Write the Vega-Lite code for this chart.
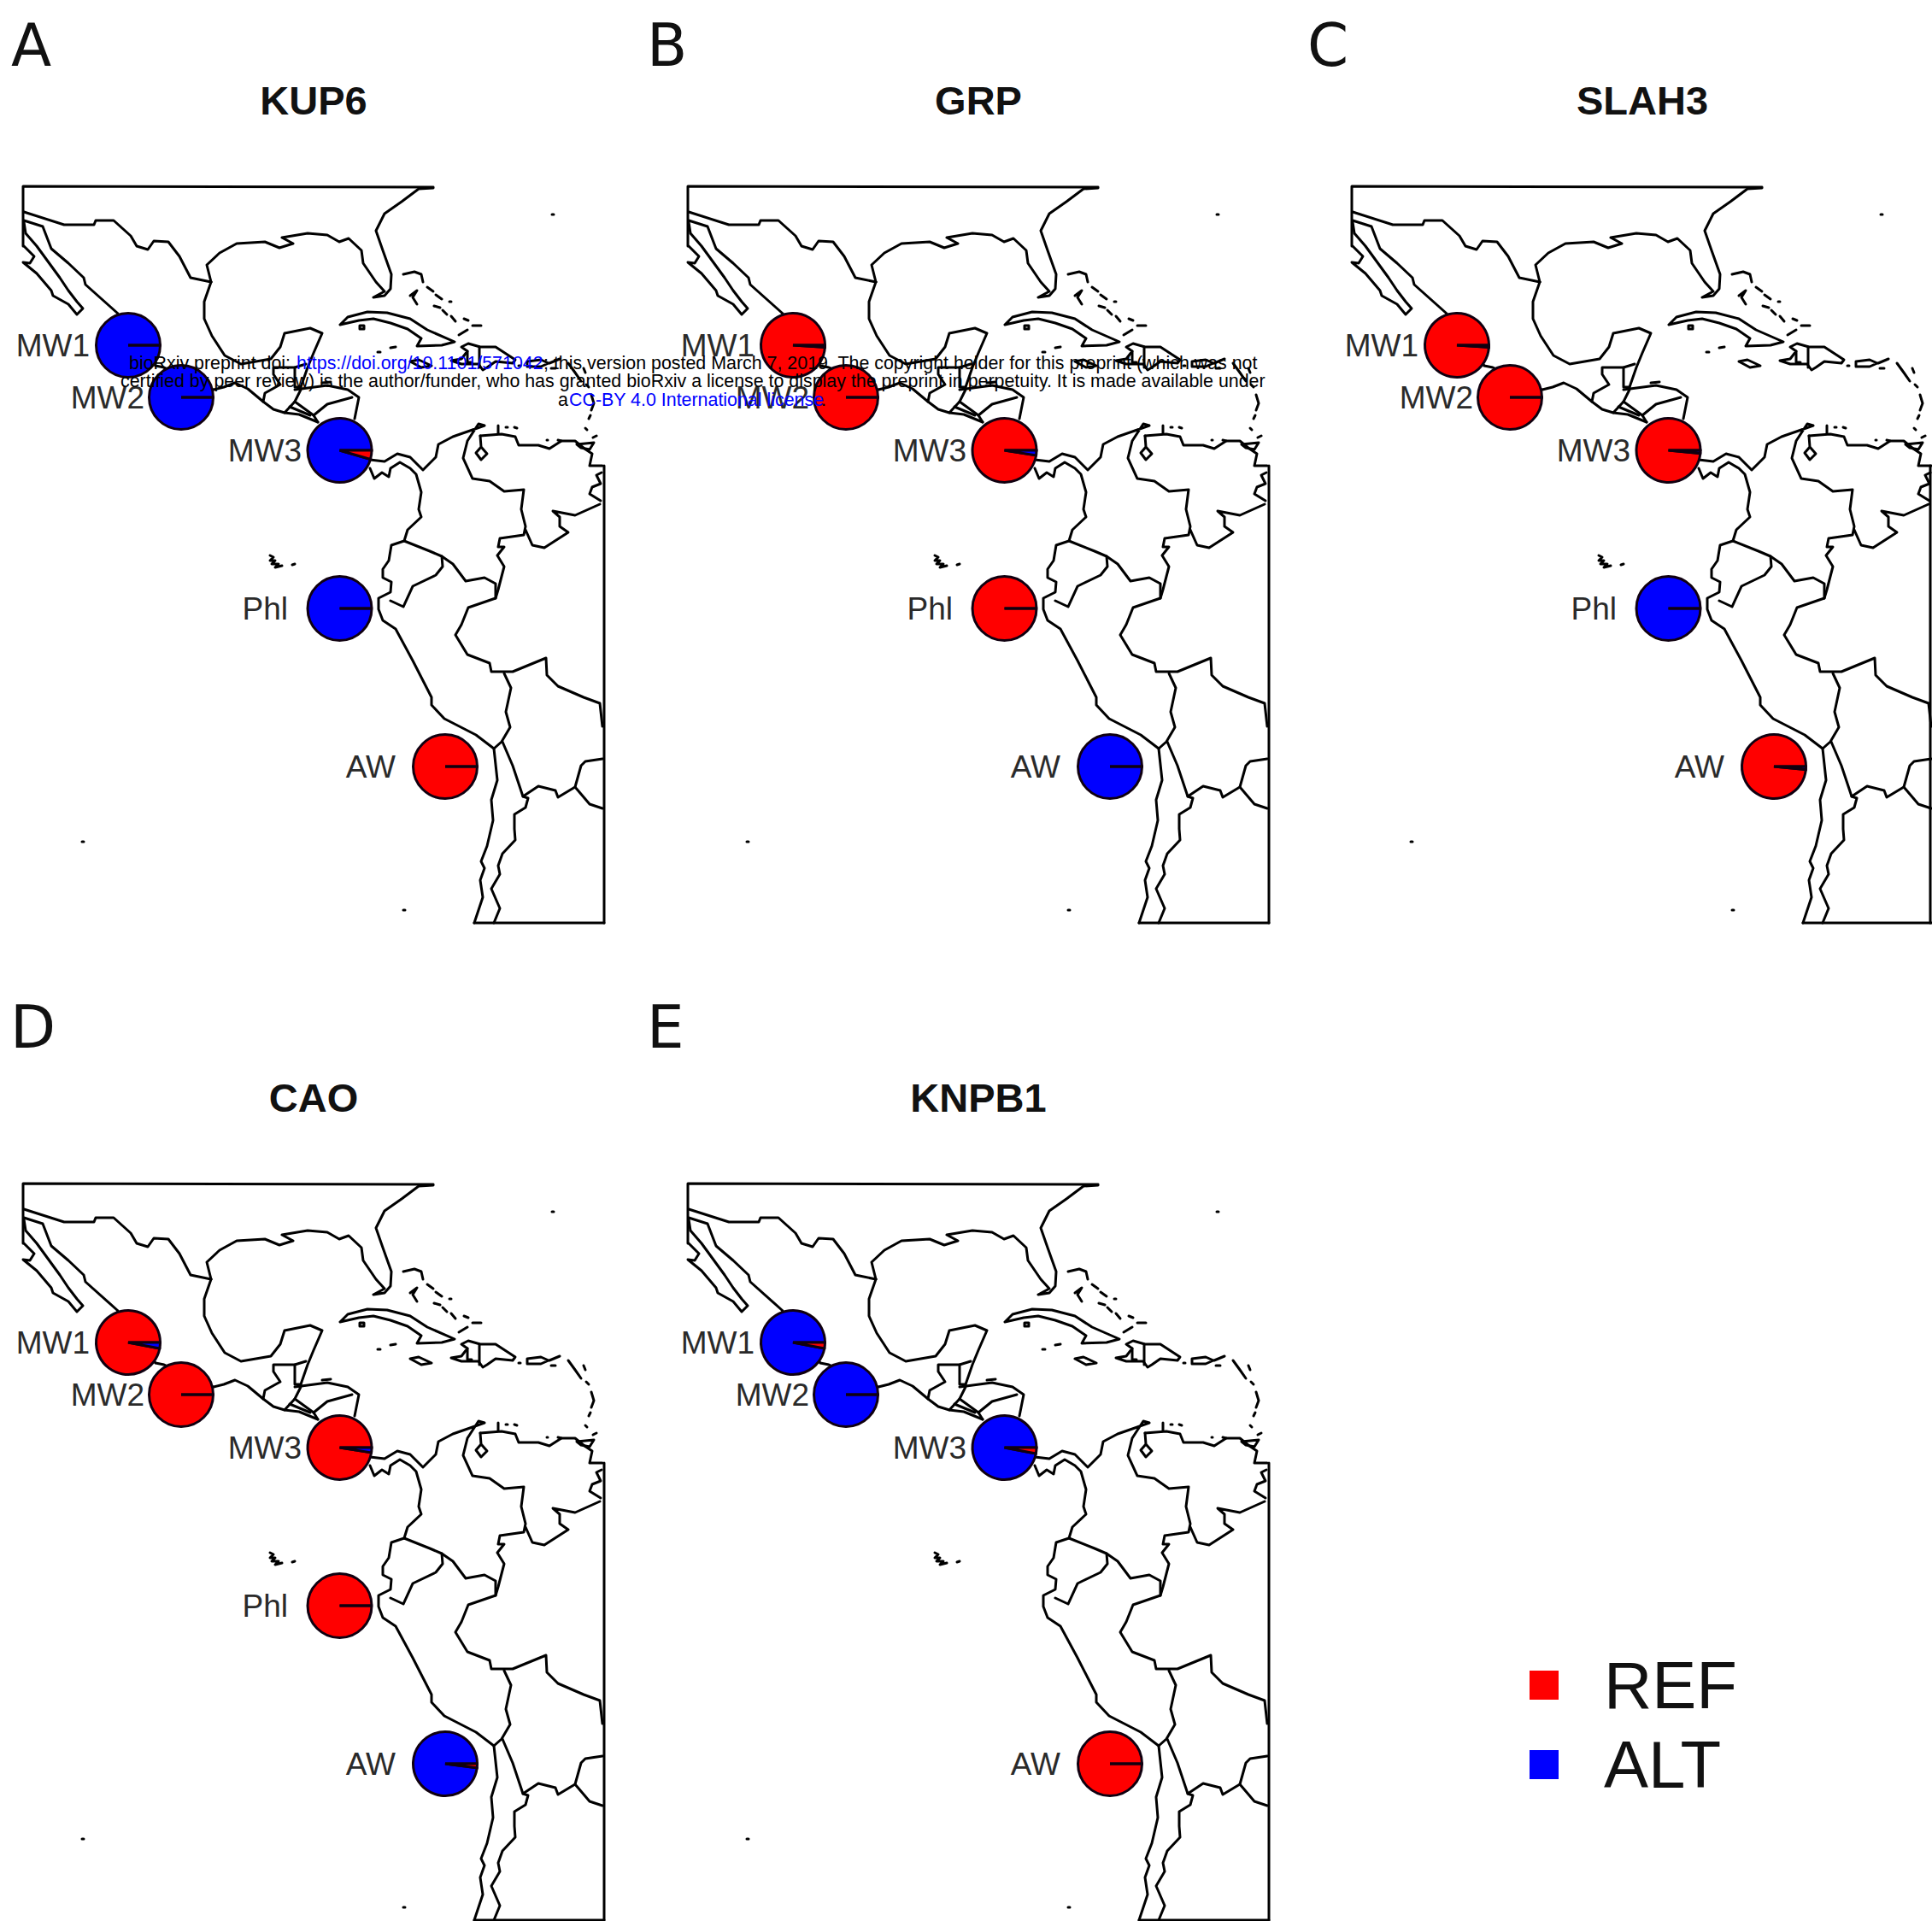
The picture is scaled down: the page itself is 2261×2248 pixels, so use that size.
{"$schema":"https://vega.github.io/schema/vega-lite/v6.json","padding":0,"autosize":{"type":"pad"},"background":"white","bounds":"flush","spacing":0,"columns":3,"align":"each","config":{"view":{"stroke":null},"axis":{"disable":true},"legend":{"disable":true},"text":{"font":"Liberation Sans"}},
"datasets":{
"sites":[{"pop":"MW1","x":150,"y":404,"lx":105},{"pop":"MW2","x":212,"y":465,"lx":169},{"pop":"MW3","x":397.5,"y":527,"lx":353},{"pop":"Phl","x":397.5,"y":712,"lx":337},{"pop":"AW","x":521,"y":897,"lx":463}],
"panels":[{"gene":"KUP6","letter":"A","tx":367,"ty":118,"lx":13,"ly":77},{"gene":"GRP","letter":"B","tx":367,"ty":118,"lx":-21,"ly":77},{"gene":"SLAH3","letter":"C","tx":367,"ty":118,"lx":-25,"ly":77},{"gene":"CAO","letter":"D","tx":367,"ty":118,"lx":12,"ly":59},{"gene":"KNPB1","letter":"E","tx":367,"ty":118,"lx":-21,"ly":59}],
"pies":[
{"gene":"KUP6","pop":"MW1","allele":"ALT","freq":1},{"gene":"KUP6","pop":"MW1","allele":"REF","freq":0},
{"gene":"KUP6","pop":"MW2","allele":"ALT","freq":1},{"gene":"KUP6","pop":"MW2","allele":"REF","freq":0},
{"gene":"KUP6","pop":"MW3","allele":"ALT","freq":0.955},{"gene":"KUP6","pop":"MW3","allele":"REF","freq":0.045},
{"gene":"KUP6","pop":"Phl","allele":"ALT","freq":1},{"gene":"KUP6","pop":"Phl","allele":"REF","freq":0},
{"gene":"KUP6","pop":"AW","allele":"REF","freq":1},{"gene":"KUP6","pop":"AW","allele":"ALT","freq":0},
{"gene":"GRP","pop":"MW1","allele":"REF","freq":0.99},{"gene":"GRP","pop":"MW1","allele":"ALT","freq":0.01},
{"gene":"GRP","pop":"MW2","allele":"REF","freq":1},{"gene":"GRP","pop":"MW2","allele":"ALT","freq":0},
{"gene":"GRP","pop":"MW3","allele":"REF","freq":0.975},{"gene":"GRP","pop":"MW3","allele":"ALT","freq":0.025},
{"gene":"GRP","pop":"Phl","allele":"REF","freq":1},{"gene":"GRP","pop":"Phl","allele":"ALT","freq":0},
{"gene":"GRP","pop":"AW","allele":"ALT","freq":1},{"gene":"GRP","pop":"AW","allele":"REF","freq":0},
{"gene":"SLAH3","pop":"MW1","allele":"REF","freq":0.99},{"gene":"SLAH3","pop":"MW1","allele":"ALT","freq":0.01},
{"gene":"SLAH3","pop":"MW2","allele":"REF","freq":1},{"gene":"SLAH3","pop":"MW2","allele":"ALT","freq":0},
{"gene":"SLAH3","pop":"MW3","allele":"REF","freq":0.985},{"gene":"SLAH3","pop":"MW3","allele":"ALT","freq":0.015},
{"gene":"SLAH3","pop":"Phl","allele":"ALT","freq":1},{"gene":"SLAH3","pop":"Phl","allele":"REF","freq":0},
{"gene":"SLAH3","pop":"AW","allele":"REF","freq":0.985},{"gene":"SLAH3","pop":"AW","allele":"ALT","freq":0.015},
{"gene":"CAO","pop":"MW1","allele":"REF","freq":0.97},{"gene":"CAO","pop":"MW1","allele":"ALT","freq":0.03},
{"gene":"CAO","pop":"MW2","allele":"REF","freq":1},{"gene":"CAO","pop":"MW2","allele":"ALT","freq":0},
{"gene":"CAO","pop":"MW3","allele":"REF","freq":0.975},{"gene":"CAO","pop":"MW3","allele":"ALT","freq":0.025},
{"gene":"CAO","pop":"Phl","allele":"REF","freq":1},{"gene":"CAO","pop":"Phl","allele":"ALT","freq":0},
{"gene":"CAO","pop":"AW","allele":"ALT","freq":0.98},{"gene":"CAO","pop":"AW","allele":"REF","freq":0.02},
{"gene":"KNPB1","pop":"MW1","allele":"ALT","freq":0.97},{"gene":"KNPB1","pop":"MW1","allele":"REF","freq":0.03},
{"gene":"KNPB1","pop":"MW2","allele":"ALT","freq":1},{"gene":"KNPB1","pop":"MW2","allele":"REF","freq":0},
{"gene":"KNPB1","pop":"MW3","allele":"ALT","freq":0.97},{"gene":"KNPB1","pop":"MW3","allele":"REF","freq":0.03},
{"gene":"KNPB1","pop":"AW","allele":"REF","freq":1},{"gene":"KNPB1","pop":"AW","allele":"ALT","freq":0}],
"key":[{"allele":"REF","x":1807,"y":1972,"lx":1877},{"allele":"ALT","x":1807,"y":2065,"lx":1877}],
"notice":[{"t":"bioRxiv preprint doi: ","kind":"plain","x":-627,"y":432},{"t":"https://doi.org/10.1101/571042","kind":"link","x":-431,"y":432},{"t":"; this version posted March 7, 2019. The copyright holder for this preprint (which was not","kind":"plain","x":-142,"y":432},{"t":"certified by peer review) is the author/funder, who has granted bioRxiv a license to display the preprint in perpetuity. It is made available under","kind":"plain","x":-637,"y":453},{"t":"a","kind":"plain","x":-125,"y":475},{"t":"CC-BY 4.0 International license","kind":"link","x":-112,"y":475},{"t":".","kind":"plain","x":183,"y":475}],
"map":[
{"s":"frame","x":27,"y":288},{"s":"frame","x":27,"y":218},{"s":"frame","x":507,"y":219},
{"s":"south","x":555,"y":1080},{"s":"south","x":707,"y":1080},
{"s":"east","x":707,"y":1080},{"s":"east","x":707,"y":545},
{"s":"eastC","x":704,"y":1080},{"s":"eastC","x":704,"y":545},
{"s":"border","x":28,"y":248},{"s":"border","x":75,"y":263},{"s":"border","x":110,"y":263},{"s":"border","x":112,"y":258},{"s":"border","x":133,"y":258},{"s":"border","x":153,"y":276},{"s":"border","x":160,"y":288},{"s":"border","x":173,"y":292},{"s":"border","x":180,"y":282},{"s":"border","x":197,"y":283},{"s":"border","x":210,"y":300},{"s":"border","x":223,"y":325},{"s":"border","x":247,"y":330},
{"s":"pac","x":28,"y":258},{"s":"pac","x":50,"y":265},{"s":"pac","x":60,"y":291},{"s":"pac","x":80,"y":308},{"s":"pac","x":98,"y":325},{"s":"pac","x":100,"y":333},{"s":"pac","x":137,"y":366},{"s":"pac","x":182,"y":428},{"s":"pac","x":192,"y":430},{"s":"pac","x":250,"y":456},{"s":"pac","x":262,"y":453},{"s":"pac","x":275,"y":448},{"s":"pac","x":290,"y":455},{"s":"pac","x":308,"y":470},{"s":"pac","x":320,"y":479},{"s":"pac","x":333,"y":483},{"s":"pac","x":350,"y":485},{"s":"pac","x":372,"y":494},
{"s":"baja","x":28,"y":288},{"s":"baja","x":40,"y":300},{"s":"baja","x":35,"y":308},{"s":"baja","x":27,"y":307},{"s":"baja","x":43,"y":320},{"s":"baja","x":60,"y":340},{"s":"baja","x":62,"y":346},{"s":"baja","x":80,"y":356},{"s":"baja","x":90,"y":368},{"s":"baja","x":97,"y":361},{"s":"baja","x":90,"y":353},{"s":"baja","x":80,"y":340},{"s":"baja","x":70,"y":325},{"s":"baja","x":43,"y":288},{"s":"baja","x":30,"y":273},{"s":"baja","x":28,"y":260},
{"s":"gulfN","x":247,"y":330},{"s":"gulfN","x":242,"y":310},{"s":"gulfN","x":257,"y":296},{"s":"gulfN","x":277,"y":285},{"s":"gulfN","x":310,"y":283},{"s":"gulfN","x":327,"y":290},{"s":"gulfN","x":343,"y":285},{"s":"gulfN","x":330,"y":278},{"s":"gulfN","x":360,"y":273},{"s":"gulfN","x":383,"y":275},{"s":"gulfN","x":397,"y":283},{"s":"gulfN","x":408,"y":279},{"s":"gulfN","x":423,"y":293},{"s":"gulfN","x":425,"y":308},{"s":"gulfN","x":440,"y":330},{"s":"gulfN","x":450,"y":341},{"s":"gulfN","x":437,"y":348},{"s":"gulfN","x":450,"y":346},{"s":"gulfN","x":457,"y":338},{"s":"gulfN","x":458,"y":321},{"s":"gulfN","x":448,"y":293},{"s":"gulfN","x":440,"y":270},{"s":"gulfN","x":450,"y":250},{"s":"gulfN","x":470,"y":236},{"s":"gulfN","x":490,"y":221},{"s":"gulfN","x":507,"y":220},
{"s":"gulfS","x":247,"y":330},{"s":"gulfS","x":239,"y":353},{"s":"gulfS","x":239,"y":373},{"s":"gulfS","x":248,"y":393},{"s":"gulfS","x":263,"y":416},{"s":"gulfS","x":282,"y":426},{"s":"gulfS","x":317,"y":420},{"s":"gulfS","x":328,"y":406},{"s":"gulfS","x":333,"y":390},{"s":"gulfS","x":363,"y":384},{"s":"gulfS","x":377,"y":390},{"s":"gulfS","x":367,"y":413},{"s":"gulfS","x":360,"y":430},{"s":"gulfS","x":352,"y":453},
{"s":"gt","x":358,"y":426},{"s":"gt","x":345,"y":430},{"s":"gt","x":320,"y":430},{"s":"gt","x":320,"y":438},{"s":"gt","x":328,"y":450},{"s":"gt","x":310,"y":460},{"s":"gt","x":308,"y":470},
{"s":"bz","x":345,"y":430},{"s":"bz","x":345,"y":453},{"s":"bz","x":352,"y":453},
{"s":"hn","x":345,"y":456},{"s":"hn","x":383,"y":451},{"s":"hn","x":407,"y":456},{"s":"hn","x":420,"y":465},{"s":"hn","x":415,"y":490},
{"s":"hn2","x":352,"y":456},{"s":"hn2","x":345,"y":470},{"s":"hn2","x":367,"y":486},{"s":"hn2","x":372,"y":494},
{"s":"hn3","x":367,"y":486},{"s":"hn3","x":383,"y":473},{"s":"hn3","x":412,"y":465},
{"s":"hn4","x":345,"y":470},{"s":"hn4","x":333,"y":483},
{"s":"hn5","x":339,"y":476},{"s":"hn5","x":363,"y":486},
{"s":"isl","x":377,"y":448},{"s":"isl","x":387,"y":447},
{"s":"cuba","x":398,"y":380},{"s":"cuba","x":407,"y":371},{"s":"cuba","x":430,"y":365},{"s":"cuba","x":453,"y":366},{"s":"cuba","x":480,"y":373},{"s":"cuba","x":500,"y":386},{"s":"cuba","x":532,"y":400},{"s":"cuba","x":517,"y":404},{"s":"cuba","x":488,"y":405},{"s":"cuba","x":493,"y":396},{"s":"cuba","x":477,"y":385},{"s":"cuba","x":457,"y":378},{"s":"cuba","x":437,"y":373},{"s":"cuba","x":420,"y":375},{"s":"cuba","x":398,"y":380},
{"s":"youth","x":421,"y":381},{"s":"youth","x":426,"y":381},{"s":"youth","x":426,"y":385},{"s":"youth","x":421,"y":385},{"s":"youth","x":421,"y":381},
{"s":"jam","x":480,"y":423},{"s":"jam","x":490,"y":421},{"s":"jam","x":505,"y":428},{"s":"jam","x":493,"y":430},{"s":"jam","x":480,"y":423},
{"s":"his","x":528,"y":422},{"s":"his","x":540,"y":420},{"s":"his","x":547,"y":411},{"s":"his","x":540,"y":406},{"s":"his","x":548,"y":402},{"s":"his","x":562,"y":406},{"s":"his","x":580,"y":406},{"s":"his","x":603,"y":421},{"s":"his","x":600,"y":425},{"s":"his","x":580,"y":423},{"s":"his","x":570,"y":430},{"s":"his","x":565,"y":433},{"s":"his","x":560,"y":426},{"s":"his","x":540,"y":426},{"s":"his","x":528,"y":422},
{"s":"hisb","x":561,"y":406},{"s":"hisb","x":561,"y":430},
{"s":"hisc","x":547,"y":411},{"s":"hisc","x":547,"y":424},{"s":"hisc","x":552,"y":424},
{"s":"pr","x":617,"y":423},{"s":"pr","x":633,"y":421},{"s":"pr","x":642,"y":425},{"s":"pr","x":633,"y":429},{"s":"pr","x":617,"y":429},{"s":"pr","x":617,"y":423},
{"s":"b1","x":472,"y":321},{"s":"b1","x":485,"y":318},{"s":"b1","x":493,"y":321},{"s":"b1","x":495,"y":330},
{"s":"b2","x":500,"y":336},{"s":"b2","x":507,"y":341},
{"s":"b2a","x":510,"y":345},{"s":"b2a","x":517,"y":350},
{"s":"b3","x":480,"y":346},{"s":"b3","x":488,"y":340},{"s":"b3","x":483,"y":348},{"s":"b3","x":488,"y":356},
{"s":"b4","x":508,"y":358},{"s":"b4","x":515,"y":360},
{"s":"b4a","x":518,"y":363},{"s":"b4a","x":523,"y":368},
{"s":"b5","x":528,"y":370},{"s":"b5","x":533,"y":376},
{"s":"b6","x":543,"y":373},{"s":"b6","x":548,"y":375},
{"s":"b7","x":553,"y":381},{"s":"b7","x":563,"y":381},
{"s":"b8","x":537,"y":392},{"s":"b8","x":547,"y":386},
{"s":"b9","x":526,"y":353},{"s":"b9","x":528,"y":353},
{"s":"cay1","x":442,"y":412},{"s":"cay1","x":445,"y":412},
{"s":"cay2","x":457,"y":407},{"s":"cay2","x":463,"y":406},
{"s":"mona","x":607,"y":428},{"s":"mona","x":609,"y":428},
{"s":"vi","x":643,"y":425},{"s":"vi","x":655,"y":420},
{"s":"vi2","x":645,"y":431},{"s":"vi2","x":650,"y":431},
{"s":"la1","x":665,"y":425},{"s":"la1","x":673,"y":436},{"s":"la1","x":680,"y":446},
{"s":"la2","x":683,"y":431},{"s":"la2","x":685,"y":436},
{"s":"la3","x":686,"y":450},{"s":"la3","x":689,"y":453},
{"s":"la4","x":692,"y":462},{"s":"la4","x":695,"y":472},{"s":"la4","x":692,"y":480},
{"s":"la5","x":691,"y":486},{"s":"la5","x":689,"y":490},
{"s":"la6","x":685,"y":501},{"s":"la6","x":687,"y":503},
{"s":"bermuda","x":646,"y":251},{"s":"bermuda","x":648,"y":251},
{"s":"dot1","x":472,"y":1065},{"s":"dot1","x":474,"y":1065},
{"s":"dot2","x":96,"y":985},{"s":"dot2","x":98,"y":985},
{"s":"gal1","x":316,"y":650},{"s":"gal1","x":320,"y":652},{"s":"gal1","x":316,"y":656},{"s":"gal1","x":322,"y":656},{"s":"gal1","x":318,"y":660},{"s":"gal1","x":326,"y":660},{"s":"gal1","x":322,"y":664},{"s":"gal1","x":330,"y":662},
{"s":"gal2","x":342,"y":661},{"s":"gal2","x":345,"y":660},
{"s":"pan","x":433,"y":538},{"s":"pan","x":450,"y":540},{"s":"pan","x":465,"y":531},{"s":"pan","x":480,"y":535},{"s":"pan","x":495,"y":550},{"s":"pan","x":510,"y":535},{"s":"pan","x":513,"y":520},{"s":"pan","x":530,"y":511},{"s":"pan","x":553,"y":503},{"s":"pan","x":567,"y":498},{"s":"pan","x":560,"y":496},{"s":"pan","x":547,"y":516},{"s":"pan","x":542,"y":536},{"s":"pan","x":553,"y":560},{"s":"pan","x":573,"y":563},{"s":"pan","x":590,"y":575},{"s":"pan","x":613,"y":573},{"s":"pan","x":610,"y":596},{"s":"pan","x":615,"y":616},{"s":"pan","x":613,"y":626},{"s":"pan","x":585,"y":630},{"s":"pan","x":583,"y":640},{"s":"pan","x":590,"y":640},{"s":"pan","x":582,"y":650},{"s":"pan","x":590,"y":663},{"s":"pan","x":583,"y":690},{"s":"pan","x":580,"y":700},
{"s":"pacS","x":433,"y":548},{"s":"pacS","x":438,"y":560},{"s":"pacS","x":447,"y":553},{"s":"pacS","x":455,"y":558},{"s":"pacS","x":457,"y":548},{"s":"pacS","x":468,"y":541},{"s":"pacS","x":480,"y":548},{"s":"pacS","x":487,"y":555},{"s":"pacS","x":493,"y":576},{"s":"pacS","x":490,"y":596},{"s":"pacS","x":493,"y":605},{"s":"pacS","x":477,"y":620},{"s":"pacS","x":473,"y":633},{"s":"pacS","x":458,"y":638},{"s":"pacS","x":455,"y":656},{"s":"pacS","x":448,"y":666},{"s":"pacS","x":448,"y":676},{"s":"pacS","x":458,"y":681},{"s":"pacS","x":457,"y":693},{"s":"pacS","x":443,"y":700},{"s":"pacS","x":443,"y":713},{"s":"pacS","x":448,"y":726},{"s":"pacS","x":463,"y":736},{"s":"pacS","x":483,"y":773},{"s":"pacS","x":505,"y":816},{"s":"pacS","x":505,"y":825},{"s":"pacS","x":520,"y":841},{"s":"pacS","x":557,"y":860},{"s":"pacS","x":578,"y":876},{"s":"pacS","x":582,"y":913},{"s":"pacS","x":575,"y":936},{"s":"pacS","x":577,"y":960},{"s":"pacS","x":570,"y":990},{"s":"pacS","x":563,"y":1008},{"s":"pacS","x":567,"y":1016},{"s":"pacS","x":562,"y":1030},{"s":"pacS","x":565,"y":1050},{"s":"pacS","x":555,"y":1080},
{"s":"ec1","x":473,"y":633},{"s":"ec1","x":503,"y":645},{"s":"ec1","x":517,"y":651},{"s":"ec1","x":518,"y":663},{"s":"ec1","x":510,"y":673},{"s":"ec1","x":483,"y":686},{"s":"ec1","x":472,"y":710},{"s":"ec1","x":457,"y":703},
{"s":"pe1","x":517,"y":651},{"s":"pe1","x":530,"y":660},{"s":"pe1","x":545,"y":680},{"s":"pe1","x":567,"y":676},{"s":"pe1","x":580,"y":683},{"s":"pe1","x":580,"y":700},{"s":"pe1","x":548,"y":711},{"s":"pe1","x":540,"y":731},{"s":"pe1","x":533,"y":743},{"s":"pe1","x":547,"y":766},{"s":"pe1","x":573,"y":776},{"s":"pe1","x":575,"y":786},{"s":"pe1","x":600,"y":786},{"s":"pe1","x":639,"y":770},{"s":"pe1","x":640,"y":790},{"s":"pe1","x":653,"y":803},{"s":"pe1","x":683,"y":816},{"s":"pe1","x":702,"y":823},{"s":"pe1","x":705,"y":850},
{"s":"bo","x":590,"y":788},{"s":"bo","x":598,"y":805},{"s":"bo","x":592,"y":833},{"s":"bo","x":597,"y":851},{"s":"bo","x":587,"y":868},{"s":"bo","x":578,"y":876},
{"s":"ar","x":588,"y":868},{"s":"ar","x":600,"y":896},{"s":"ar","x":612,"y":932},{"s":"ar","x":618,"y":934},{"s":"ar","x":615,"y":945},{"s":"ar","x":602,"y":953},{"s":"ar","x":602,"y":970},{"s":"ar","x":603,"y":983},{"s":"ar","x":588,"y":999},{"s":"ar","x":583,"y":1013},{"s":"ar","x":585,"y":1023},{"s":"ar","x":575,"y":1040},{"s":"ar","x":585,"y":1063},{"s":"ar","x":578,"y":1080},
{"s":"py","x":612,"y":932},{"s":"py","x":630,"y":920},{"s":"py","x":650,"y":925},{"s":"py","x":653,"y":933},{"s":"py","x":673,"y":921},{"s":"py","x":680,"y":896},{"s":"py","x":685,"y":891},{"s":"py","x":705,"y":888},
{"s":"py2","x":673,"y":921},{"s":"py2","x":690,"y":941},{"s":"py2","x":705,"y":946},
{"s":"ve","x":562,"y":510},{"s":"ve","x":587,"y":508},{"s":"ve","x":603,"y":511},{"s":"ve","x":607,"y":521},{"s":"ve","x":630,"y":521},{"s":"ve","x":643,"y":525},{"s":"ve","x":657,"y":516},{"s":"ve","x":673,"y":516},{"s":"ve","x":684,"y":525},{"s":"ve","x":693,"y":531},{"s":"ve","x":690,"y":545},{"s":"ve","x":705,"y":545},
{"s":"gu","x":704,"y":553},{"s":"gu","x":698,"y":556},{"s":"gu","x":703,"y":566},{"s":"gu","x":693,"y":570},{"s":"gu","x":690,"y":578},{"s":"gu","x":703,"y":586},
{"s":"lake","x":563,"y":523},{"s":"lake","x":570,"y":531},{"s":"lake","x":563,"y":538},{"s":"lake","x":557,"y":530},{"s":"lake","x":563,"y":523},{"s":"lake","x":562,"y":510},
{"s":"gy","x":702,"y":590},{"s":"gy","x":673,"y":603},{"s":"gy","x":647,"y":598},{"s":"gy","x":655,"y":605},{"s":"gy","x":655,"y":616},{"s":"gy","x":665,"y":623},{"s":"gy","x":637,"y":641},{"s":"gy","x":623,"y":638},{"s":"gy","x":615,"y":620},
{"s":"tr","x":675,"y":520},{"s":"tr","x":695,"y":518},{"s":"tr","x":690,"y":526},{"s":"tr","x":680,"y":524},{"s":"tr","x":675,"y":520},
{"s":"tr2","x":694,"y":512},{"s":"tr2","x":698,"y":510},
{"s":"abc1","x":583,"y":498},{"s":"abc1","x":583,"y":507},
{"s":"abc2","x":592,"y":500},{"s":"abc2","x":594,"y":500},
{"s":"abc3","x":602,"y":500},{"s":"abc3","x":605,"y":501},
{"s":"abc4","x":640,"y":515},{"s":"abc4","x":641,"y":515},
{"s":"abc5","x":653,"y":515},{"s":"abc5","x":657,"y":516}
]},
"concat":[
{"width":750,"height":1167,"layer":[
{"data":{"name":"map"},"transform":[{"filter":"datum.s!='eastC'"}],"mark":{"type":"line","order":null,"stroke":"#000","strokeWidth":3,"strokeJoin":"round","strokeCap":"round"},"encoding":{"x":{"field":"x","type":"quantitative","scale":{"domain":[0,750],"nice":false,"zero":false}},"y":{"field":"y","type":"quantitative","scale":{"domain":[0,1167],"reverse":true,"nice":false,"zero":false}},"detail":{"field":"s"}}},
{"data":{"name":"pies"},"transform":[{"filter":"datum.gene=='KUP6'"},{"stack":"freq","groupby":["pop"],"as":["f0","f1"]},{"lookup":"pop","from":{"data":{"name":"sites"},"key":"pop","fields":["x","y"]}}],"mark":{"type":"arc","radius":37.5,"stroke":"#100010","strokeWidth":3},"encoding":{"x":{"field":"x","type":"quantitative"},"y":{"field":"y","type":"quantitative"},"theta":{"field":"f0","type":"quantitative","stack":null,"scale":{"domain":[0,1],"range":[1.5707963,-4.712389]}},"theta2":{"field":"f1"},"color":{"field":"allele","type":"nominal","scale":{"domain":["REF","ALT"],"range":["#ff0000","#0000ff"]}}}},
{"data":{"name":"pies"},"transform":[{"filter":"datum.gene=='KUP6' && datum.allele=='REF'"},{"lookup":"pop","from":{"data":{"name":"sites"},"key":"pop","fields":["y","lx"]}}],"mark":{"type":"text","align":"right","baseline":"middle","dy":2,"fontSize":37,"font":"Liberation Sans","fill":"#2a2a2a"},"encoding":{"x":{"field":"lx","type":"quantitative"},"y":{"field":"y","type":"quantitative"},"text":{"field":"pop"}}},
{"data":{"name":"panels"},"transform":[{"filter":"datum.gene=='KUP6'"}],"mark":{"type":"text","align":"center","baseline":"middle","dy":2,"fontSize":47,"fontWeight":"bold","font":"Liberation Sans","fill":"#111"},"encoding":{"x":{"field":"tx","type":"quantitative"},"y":{"field":"ty","type":"quantitative"},"text":{"field":"gene"}}},
{"data":{"name":"panels"},"transform":[{"filter":"datum.gene=='KUP6'"}],"mark":{"type":"text","align":"left","baseline":"alphabetic","fontSize":69,"font":"DejaVu Sans","fill":"#111"},"encoding":{"x":{"field":"lx","type":"quantitative"},"y":{"field":"ly","type":"quantitative"},"text":{"field":"letter"}}}
]},
{"width":750,"height":1167,"layer":[
{"data":{"name":"map"},"transform":[{"filter":"datum.s!='eastC'"}],"mark":{"type":"line","order":null,"stroke":"#000","strokeWidth":3,"strokeJoin":"round","strokeCap":"round"},"encoding":{"x":{"field":"x","type":"quantitative","scale":{"domain":[-28,722],"nice":false,"zero":false}},"y":{"field":"y","type":"quantitative","scale":{"domain":[0,1167],"reverse":true,"nice":false,"zero":false}},"detail":{"field":"s"}}},
{"data":{"name":"pies"},"transform":[{"filter":"datum.gene=='GRP'"},{"stack":"freq","groupby":["pop"],"as":["f0","f1"]},{"lookup":"pop","from":{"data":{"name":"sites"},"key":"pop","fields":["x","y"]}}],"mark":{"type":"arc","radius":37.5,"stroke":"#100010","strokeWidth":3},"encoding":{"x":{"field":"x","type":"quantitative"},"y":{"field":"y","type":"quantitative"},"theta":{"field":"f0","type":"quantitative","stack":null,"scale":{"domain":[0,1],"range":[1.5707963,-4.712389]}},"theta2":{"field":"f1"},"color":{"field":"allele","type":"nominal","scale":{"domain":["REF","ALT"],"range":["#ff0000","#0000ff"]}}}},
{"data":{"name":"pies"},"transform":[{"filter":"datum.gene=='GRP' && datum.allele=='REF'"},{"lookup":"pop","from":{"data":{"name":"sites"},"key":"pop","fields":["y","lx"]}}],"mark":{"type":"text","align":"right","baseline":"middle","dy":2,"fontSize":37,"font":"Liberation Sans","fill":"#2a2a2a"},"encoding":{"x":{"field":"lx","type":"quantitative"},"y":{"field":"y","type":"quantitative"},"text":{"field":"pop"}}},
{"data":{"name":"panels"},"transform":[{"filter":"datum.gene=='GRP'"}],"mark":{"type":"text","align":"center","baseline":"middle","dy":2,"fontSize":47,"fontWeight":"bold","font":"Liberation Sans","fill":"#111"},"encoding":{"x":{"field":"tx","type":"quantitative"},"y":{"field":"ty","type":"quantitative"},"text":{"field":"gene"}}},
{"data":{"name":"panels"},"transform":[{"filter":"datum.gene=='GRP'"}],"mark":{"type":"text","align":"left","baseline":"alphabetic","fontSize":69,"font":"DejaVu Sans","fill":"#111"},"encoding":{"x":{"field":"lx","type":"quantitative"},"y":{"field":"ly","type":"quantitative"},"text":{"field":"letter"}}},
{"data":{"name":"notice"},"transform":[{"filter":"datum.kind=='plain'"}],"mark":{"type":"text","align":"left","baseline":"alphabetic","fontSize":21.4,"font":"Liberation Sans","fill":"#000"},"encoding":{"x":{"field":"x","type":"quantitative"},"y":{"field":"y","type":"quantitative"},"text":{"field":"t"}}},
{"data":{"name":"notice"},"transform":[{"filter":"datum.kind=='link'"}],"mark":{"type":"text","align":"left","baseline":"alphabetic","fontSize":21.4,"font":"Liberation Sans","fill":"#0000ff"},"encoding":{"x":{"field":"x","type":"quantitative"},"y":{"field":"y","type":"quantitative"},"text":{"field":"t"}}}
]},
{"width":761,"height":1167,"layer":[
{"data":{"name":"map"},"transform":[{"filter":"datum.s!='east'"}],"mark":{"type":"line","order":null,"stroke":"#000","strokeWidth":3,"strokeJoin":"round","strokeCap":"round"},"encoding":{"x":{"field":"x","type":"quantitative","scale":{"domain":[-55,706],"nice":false,"zero":false}},"y":{"field":"y","type":"quantitative","scale":{"domain":[0,1167],"reverse":true,"nice":false,"zero":false}},"detail":{"field":"s"}}},
{"data":{"name":"pies"},"transform":[{"filter":"datum.gene=='SLAH3'"},{"stack":"freq","groupby":["pop"],"as":["f0","f1"]},{"lookup":"pop","from":{"data":{"name":"sites"},"key":"pop","fields":["x","y"]}}],"mark":{"type":"arc","radius":37.5,"stroke":"#100010","strokeWidth":3},"encoding":{"x":{"field":"x","type":"quantitative"},"y":{"field":"y","type":"quantitative"},"theta":{"field":"f0","type":"quantitative","stack":null,"scale":{"domain":[0,1],"range":[1.5707963,-4.712389]}},"theta2":{"field":"f1"},"color":{"field":"allele","type":"nominal","scale":{"domain":["REF","ALT"],"range":["#ff0000","#0000ff"]}}}},
{"data":{"name":"pies"},"transform":[{"filter":"datum.gene=='SLAH3' && datum.allele=='REF'"},{"lookup":"pop","from":{"data":{"name":"sites"},"key":"pop","fields":["y","lx"]}}],"mark":{"type":"text","align":"right","baseline":"middle","dy":2,"fontSize":37,"font":"Liberation Sans","fill":"#2a2a2a"},"encoding":{"x":{"field":"lx","type":"quantitative"},"y":{"field":"y","type":"quantitative"},"text":{"field":"pop"}}},
{"data":{"name":"panels"},"transform":[{"filter":"datum.gene=='SLAH3'"}],"mark":{"type":"text","align":"center","baseline":"middle","dy":2,"fontSize":47,"fontWeight":"bold","font":"Liberation Sans","fill":"#111"},"encoding":{"x":{"field":"tx","type":"quantitative"},"y":{"field":"ty","type":"quantitative"},"text":{"field":"gene"}}},
{"data":{"name":"panels"},"transform":[{"filter":"datum.gene=='SLAH3'"}],"mark":{"type":"text","align":"left","baseline":"alphabetic","fontSize":69,"font":"DejaVu Sans","fill":"#111"},"encoding":{"x":{"field":"lx","type":"quantitative"},"y":{"field":"ly","type":"quantitative"},"text":{"field":"letter"}}}
]},
{"width":750,"height":1081,"layer":[
{"data":{"name":"map"},"transform":[{"filter":"datum.s!='eastC'"}],"mark":{"type":"line","order":null,"stroke":"#000","strokeWidth":3,"strokeJoin":"round","strokeCap":"round"},"encoding":{"x":{"field":"x","type":"quantitative","scale":{"domain":[0,750],"nice":false,"zero":false}},"y":{"field":"y","type":"quantitative","scale":{"domain":[0,1081],"reverse":true,"nice":false,"zero":false}},"detail":{"field":"s"}}},
{"data":{"name":"pies"},"transform":[{"filter":"datum.gene=='CAO'"},{"stack":"freq","groupby":["pop"],"as":["f0","f1"]},{"lookup":"pop","from":{"data":{"name":"sites"},"key":"pop","fields":["x","y"]}}],"mark":{"type":"arc","radius":37.5,"stroke":"#100010","strokeWidth":3},"encoding":{"x":{"field":"x","type":"quantitative"},"y":{"field":"y","type":"quantitative"},"theta":{"field":"f0","type":"quantitative","stack":null,"scale":{"domain":[0,1],"range":[1.5707963,-4.712389]}},"theta2":{"field":"f1"},"color":{"field":"allele","type":"nominal","scale":{"domain":["REF","ALT"],"range":["#ff0000","#0000ff"]}}}},
{"data":{"name":"pies"},"transform":[{"filter":"datum.gene=='CAO' && datum.allele=='REF'"},{"lookup":"pop","from":{"data":{"name":"sites"},"key":"pop","fields":["y","lx"]}}],"mark":{"type":"text","align":"right","baseline":"middle","dy":2,"fontSize":37,"font":"Liberation Sans","fill":"#2a2a2a"},"encoding":{"x":{"field":"lx","type":"quantitative"},"y":{"field":"y","type":"quantitative"},"text":{"field":"pop"}}},
{"data":{"name":"panels"},"transform":[{"filter":"datum.gene=='CAO'"}],"mark":{"type":"text","align":"center","baseline":"middle","dy":2,"fontSize":47,"fontWeight":"bold","font":"Liberation Sans","fill":"#111"},"encoding":{"x":{"field":"tx","type":"quantitative"},"y":{"field":"ty","type":"quantitative"},"text":{"field":"gene"}}},
{"data":{"name":"panels"},"transform":[{"filter":"datum.gene=='CAO'"}],"mark":{"type":"text","align":"left","baseline":"alphabetic","fontSize":69,"font":"DejaVu Sans","fill":"#111"},"encoding":{"x":{"field":"lx","type":"quantitative"},"y":{"field":"ly","type":"quantitative"},"text":{"field":"letter"}}}
]},
{"width":750,"height":1081,"layer":[
{"data":{"name":"map"},"transform":[{"filter":"datum.s!='eastC'"}],"mark":{"type":"line","order":null,"stroke":"#000","strokeWidth":3,"strokeJoin":"round","strokeCap":"round"},"encoding":{"x":{"field":"x","type":"quantitative","scale":{"domain":[-28,722],"nice":false,"zero":false}},"y":{"field":"y","type":"quantitative","scale":{"domain":[0,1081],"reverse":true,"nice":false,"zero":false}},"detail":{"field":"s"}}},
{"data":{"name":"pies"},"transform":[{"filter":"datum.gene=='KNPB1'"},{"stack":"freq","groupby":["pop"],"as":["f0","f1"]},{"lookup":"pop","from":{"data":{"name":"sites"},"key":"pop","fields":["x","y"]}}],"mark":{"type":"arc","radius":37.5,"stroke":"#100010","strokeWidth":3},"encoding":{"x":{"field":"x","type":"quantitative"},"y":{"field":"y","type":"quantitative"},"theta":{"field":"f0","type":"quantitative","stack":null,"scale":{"domain":[0,1],"range":[1.5707963,-4.712389]}},"theta2":{"field":"f1"},"color":{"field":"allele","type":"nominal","scale":{"domain":["REF","ALT"],"range":["#ff0000","#0000ff"]}}}},
{"data":{"name":"pies"},"transform":[{"filter":"datum.gene=='KNPB1' && datum.allele=='REF'"},{"lookup":"pop","from":{"data":{"name":"sites"},"key":"pop","fields":["y","lx"]}}],"mark":{"type":"text","align":"right","baseline":"middle","dy":2,"fontSize":37,"font":"Liberation Sans","fill":"#2a2a2a"},"encoding":{"x":{"field":"lx","type":"quantitative"},"y":{"field":"y","type":"quantitative"},"text":{"field":"pop"}}},
{"data":{"name":"panels"},"transform":[{"filter":"datum.gene=='KNPB1'"}],"mark":{"type":"text","align":"center","baseline":"middle","dy":2,"fontSize":47,"fontWeight":"bold","font":"Liberation Sans","fill":"#111"},"encoding":{"x":{"field":"tx","type":"quantitative"},"y":{"field":"ty","type":"quantitative"},"text":{"field":"gene"}}},
{"data":{"name":"panels"},"transform":[{"filter":"datum.gene=='KNPB1'"}],"mark":{"type":"text","align":"left","baseline":"alphabetic","fontSize":69,"font":"DejaVu Sans","fill":"#111"},"encoding":{"x":{"field":"lx","type":"quantitative"},"y":{"field":"ly","type":"quantitative"},"text":{"field":"letter"}}}
]},
{"width":761,"height":1081,"layer":[
{"data":{"name":"key"},"mark":{"type":"point","shape":"square","filled":true,"size":1156,"opacity":1,"strokeWidth":0},"encoding":{"x":{"field":"x","type":"quantitative","scale":{"domain":[1500,2261],"nice":false,"zero":false}},"y":{"field":"y","type":"quantitative","scale":{"domain":[1167,2248],"reverse":true,"nice":false,"zero":false}},"color":{"field":"allele","type":"nominal","scale":{"domain":["REF","ALT"],"range":["#ff0000","#0000ff"]}}}},
{"data":{"name":"key"},"mark":{"type":"text","align":"left","baseline":"middle","dy":4,"fontSize":78,"font":"Liberation Sans","fill":"#111"},"encoding":{"x":{"field":"lx","type":"quantitative"},"y":{"field":"y","type":"quantitative"},"text":{"field":"allele"}}}
]}
]}
